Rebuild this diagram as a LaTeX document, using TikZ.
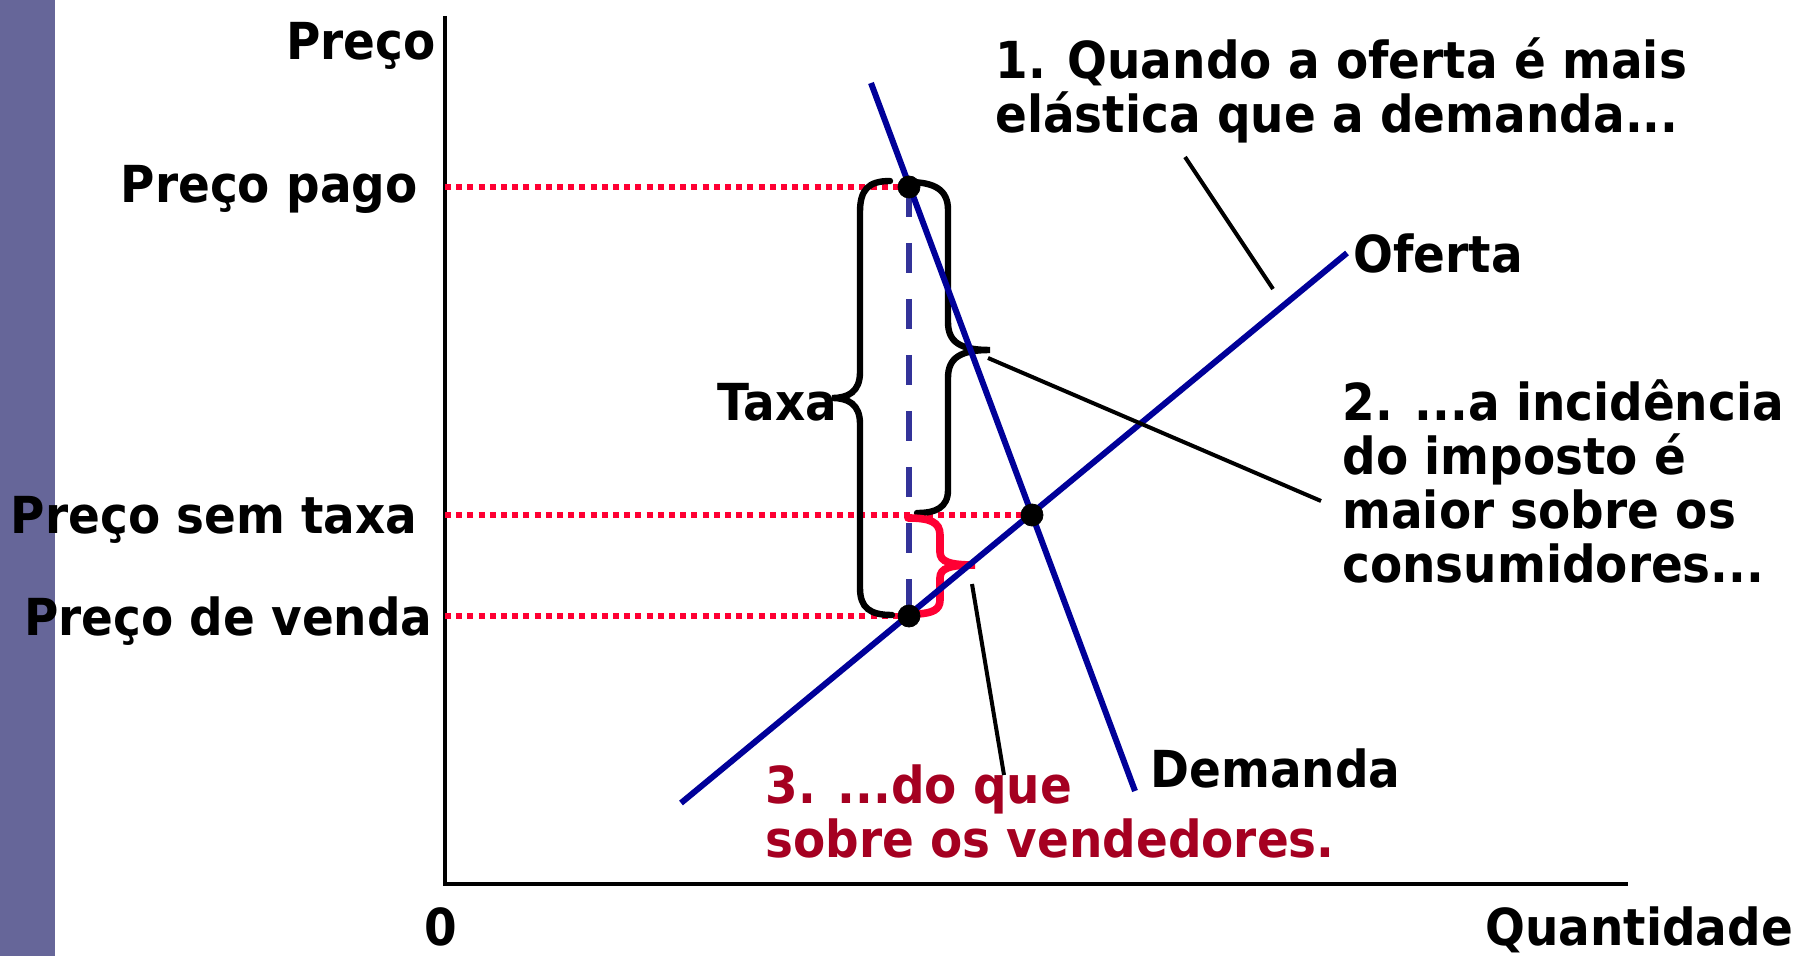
\documentclass[tikz,border=0pt]{standalone}
\usepackage{fontspec}
\setmainfont{DejaVu Sans}[FakeStretch=0.92]
\usetikzlibrary{positioning}
\definecolor{barpurple}{HTML}{666699}
\definecolor{curveblue}{HTML}{000099}
\definecolor{dashblue}{HTML}{333399}
\definecolor{dotred}{HTML}{FF0033}
\definecolor{notered}{HTML}{A50021}
\tikzset{
  lbl/.style={font=\bfseries\fontsize{25.5}{27}\selectfont, inner sep=0pt, align=left},
  curve/.style={curveblue, line width=3pt},
  guide/.style={dotred, line width=3.4pt, dash pattern=on 3pt off 2.6pt},
  brace/.style={line width=3.2pt, line cap=round},
  pointer/.style={line width=2pt},
}
\begin{document}
\begin{tikzpicture}[x=0.5pt,y=-0.5pt]
        \useasboundingbox (0,0) rectangle (1798,956);
        \fill[barpurple] (0,0) rectangle (55,956);
        % axes
        \coordinate (origin) at (445,884);
        \coordinate (ytop) at (445,16);
        \coordinate (xend) at (1628,884);
        \draw[line width=2.2pt] (ytop) -- (origin) -- (xend);
        % the three prices
        \coordinate (pago) at (909,187);
        \coordinate (eq) at (1032,515);
        \coordinate (venda) at (909,616);
        \draw[guide] (origin |- pago) -- (pago);
        \draw[guide] (origin |- eq) -- (eq);
        \draw[guide] (origin |- venda) -- (venda);
        \draw[dashblue, line width=3.4pt, dash pattern=on 15pt off 13pt] (pago) -- (venda);
        % braces
        \draw[brace] (890,181) .. controls (868,181) and (860,190) .. (860,212) -- (860,372)
                .. controls (860,392) and (848,398) .. (832,398)
                .. controls (848,398) and (860,404) .. (860,424) -- (860,588)
                .. controls (860,608) and (870,615) .. (892,615);
        \draw[brace] (908,182) .. controls (935,182) and (948,190) .. (948,210) -- (948,322)
                .. controls (948,342) and (960,350) .. (990,350)
                .. controls (960,350) and (948,358) .. (948,378) -- (948,490)
                .. controls (948,508) and (935,513) .. (917,513);
        \draw[brace, dotred, line width=3.8pt] (908,518) .. controls (930,518) and (940,522) .. (940,535) -- (940,552)
                .. controls (940,562) and (950,565) .. (975,565)
                .. controls (950,565) and (940,568) .. (940,578) -- (940,600)
                .. controls (940,610) and (932,613) .. (918,614);
        % supply and demand
        \coordinate (demtop) at (871,83);
        \coordinate (dembot) at (1135,791);
        \coordinate (ofbot) at (681,803);
        \coordinate (oftop) at (1347,253);
        \draw[curve] (demtop) -- (dembot);
        \draw[curve] (ofbot) -- (oftop);
        \draw[fill] (pago) circle (5.5pt);
        \draw[fill] (eq) circle (5.5pt);
        \draw[fill] (venda) circle (5.5pt);
        % labels
        \node[lbl, anchor=base east] (ylab) at (436,60) {Preço};
        \node[lbl, anchor=base east] (pagolab) at (418,203) {Preço pago};
        \node[lbl, anchor=base east] (semlab) at (418,533) {Preço sem taxa};
        \node[lbl, anchor=base east] (vendalab) at (433,635) {Preço de venda};
        \node[lbl, anchor=base] (zero) at (441,945) {0};
        \node[lbl, anchor=base west] (xlab) at (1485,945) {Quantidade};
        \node[lbl, anchor=base west] (taxalab) at (717,421) {Taxa};
        \node[lbl, anchor=base west] (oflab) at (1353,273) {Oferta};
        \node[lbl, anchor=base west] (demlab) at (1150,787) {Demanda};
        \node[lbl, anchor=base west] (note1) at (995,133) {1. Quando a oferta é mais\\elástica que a demanda...};
        \node[lbl, anchor=base west] (note2) at (1342,582) {2. ...a incidência\\do imposto é\\maior sobre os\\consumidores...};
        \node[lbl, anchor=base west, text=notered] (note3) at (765,857) {3. ...do que\\sobre os vendedores.};
        % pointers
        \coordinate (p1a) at (1185,157);
        \coordinate (p1b) at (1273,289);
        \coordinate (p2a) at (988,358);
        \coordinate (p2b) at (1321,501);
        \coordinate (p3a) at (972,584);
        \coordinate (p3b) at (1004,775);
        \draw[pointer] (p1a) -- (p1b);
        \draw[pointer] (p2a) -- (p2b);
        \draw[pointer] (p3a) -- (p3b);
\end{tikzpicture}
\end{document}
